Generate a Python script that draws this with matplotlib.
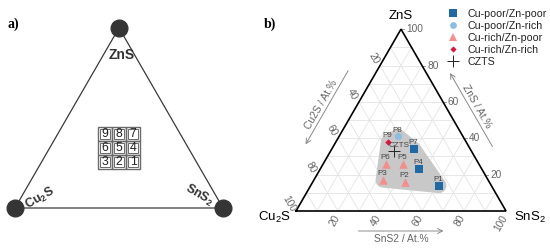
import numpy as np
import matplotlib
matplotlib.use('Agg')
import matplotlib.pyplot as plt
from matplotlib.patches import Polygon, Rectangle
from matplotlib.lines import Line2D

plt.rcParams['font.family'] = ['Liberation Sans', 'DejaVu Sans']
plt.rcParams['mathtext.fontset'] = 'custom'
plt.rcParams['mathtext.rm'] = 'Liberation Sans'
plt.rcParams['mathtext.bf'] = 'Liberation Sans:bold'

# ---------------- data ----------------
names = ['P1', 'P2', 'P3', 'P4', 'P5', 'P6', 'P7', 'P8', 'P9']
cu2s = [25, 40, 50, 30, 36, 44, 27, 31, 37]
zns = [14, 16, 17, 23, 26, 26, 34, 41, 38]
sns2 = [61, 44, 33, 47, 38, 30, 39, 28, 25]
groups = ['Cu-poor/Zn-poor', 'Cu-rich/Zn-poor', 'Cu-rich/Zn-poor',
          'Cu-poor/Zn-poor', 'Cu-rich/Zn-poor', 'Cu-rich/Zn-poor',
          'Cu-poor/Zn-poor', 'Cu-poor/Zn-rich', 'Cu-rich/Zn-rich']
czts = [37, 33, 30]  # Cu2S, ZnS, SnS2
group_names = ['Cu-poor/Zn-poor', 'Cu-poor/Zn-rich', 'Cu-rich/Zn-poor',
               'Cu-rich/Zn-rich']
tick_values = [20, 40, 60, 80, 100]
grid_values = [10, 20, 30, 40, 50, 60, 70, 80, 90]
grid_labels = [[9, 8, 7], [6, 5, 4], [3, 2, 1]]

# ---------------- styles ----------------
styles = {
    'Cu-poor/Zn-poor': dict(marker='s', color='#1f6aa5', s=30),
    'Cu-poor/Zn-rich': dict(marker='o', color='#8cbde0', s=26),
    'Cu-rich/Zn-poor': dict(marker='^', color='#f28e8c', s=38),
    'Cu-rich/Zn-rich': dict(marker='D', color='#d8163f', s=11),
}

W, H, DPI = 550, 248, 100
fig = plt.figure(figsize=(W / DPI, H / DPI), dpi=DPI)

S3 = np.sqrt(3) / 2


def tern(c, z, s):
    c, z, s = np.asarray(c, float), np.asarray(z, float), np.asarray(s, float)
    tot = c + z + s
    return (s + 0.5 * z) / tot, S3 * z / tot


# ================= panel a =================
SA = 208.0
ax0x, ax0y = 15.0, 208.0
axa = fig.add_axes([0, 0, 260 / W, 1])
axa.set_xlim(-ax0x / SA, (260 - ax0x) / SA)
axa.set_ylim((ax0y - H) / SA, ax0y / SA)
axa.axis('off')

vx, vy = tern([100, 0, 0, 100], [0, 100, 0, 0], [0, 0, 100, 0])
axa.plot(vx, vy, color='#3a3a3a', lw=0.9, zorder=1)
axa.plot(vx[:3], vy[:3], 'o', color='#353535', ms=12, zorder=2)

pa = 1 / SA
axa.text(vx[1] + 3 * pa, vy[1] - 27 * pa, 'ZnS', ha='center', va='center',
         fontsize=10, fontweight='bold', color='#333333')
axa.text(vx[0] + 25 * pa, vy[0] + 10 * pa, r'Cu$_\mathbf{2}$S', ha='center',
         va='center', fontsize=9, fontweight='bold', color='#333333',
         rotation=30)
axa.text(vx[2] - 24 * pa, vy[2] + 13 * pa, r'SnS$_\mathbf{2}$', ha='center',
         va='center', fontsize=9, fontweight='bold', color='#333333',
         rotation=-30)

cx, cy = tern(1, 1, 1)
cell = 14.2 * pa
for r, row in enumerate(grid_labels):
    for c, lab in enumerate(row):
        x0 = cx + (c - 1.5) * cell
        y0 = cy + (0.5 - r) * cell
        axa.add_patch(Rectangle((x0, y0), cell, cell, fill=False,
                                ec='#6a6a6a', lw=1.0))
        ins = 0.16 * cell
        axa.add_patch(Rectangle((x0 + ins, y0 + ins), cell - 2 * ins,
                                cell - 2 * ins, fill=False, ec='#6a6a6a',
                                lw=0.7))
        axa.text(x0 + cell / 2, y0 + cell / 2, str(lab), ha='center',
                 va='center', fontsize=8.8, color='#222222')

fig.text(13 / W, 1 - 24 / H, 'a)', family=['Liberation Serif', 'DejaVu Serif'],
         fontsize=10, fontweight='bold', ha='center', va='center')
fig.text(270 / W, 1 - 24 / H, 'b)', family=['Liberation Serif', 'DejaVu Serif'],
         fontsize=10, fontweight='bold', ha='center', va='center')

# ================= panel b =================
SB = 210.0
bx0, by0 = 296.0, 211.0
axb = fig.add_axes([260 / W, 0, 290 / W, 1])
axb.set_xlim((260 - bx0) / SB, (W - bx0) / SB)
axb.set_ylim((by0 - H) / SB, by0 / SB)
axb.axis('off')
pb = 1 / SB

# grid
for v in grid_values:
    for a, b in [(tern(100 - v, v, 0), tern(0, v, 100 - v)),
                 (tern(100 - v, 0, v), tern(0, 100 - v, v)),
                 (tern(v, 100 - v, 0), tern(v, 0, 100 - v))]:
        axb.plot([a[0], b[0]], [a[1], b[1]], color='#e4e4e4', lw=0.6,
                 zorder=1)

# shaded region: rounded hull around the samples
px, py = tern(cu2s + [czts[0]], zns + [czts[1]], sns2 + [czts[2]])
ang = np.linspace(0, 2 * np.pi, 40, endpoint=False)
rad = 0.036
cloud = np.array([(x + rad * np.cos(t), y + rad * np.sin(t))
                  for x, y in zip(px, py) for t in ang])


def hull(pts):
    pts = sorted(map(tuple, pts))

    def cross(o, a, b):
        return (a[0] - o[0]) * (b[1] - o[1]) - (a[1] - o[1]) * (b[0] - o[0])
    lower, upper = [], []
    for p in pts:
        while len(lower) >= 2 and cross(lower[-2], lower[-1], p) <= 0:
            lower.pop()
        lower.append(p)
    for p in reversed(pts):
        while len(upper) >= 2 and cross(upper[-2], upper[-1], p) <= 0:
            upper.pop()
        upper.append(p)
    return np.array(lower[:-1] + upper[:-1])


axb.add_patch(Polygon(hull(cloud), closed=True, fc='#c8c8c8', ec='none',
                      zorder=2))

# triangle border
tx, ty = tern([100, 0, 0, 100], [0, 100, 0, 0], [0, 0, 100, 0])
axb.plot(tx, ty, color='black', lw=1.2, zorder=3, solid_joinstyle='miter')

# tick labels
tcol = '#666666'
for v in tick_values:
    x, y = tern(0, v, 100 - v)          # ZnS on right edge
    axb.plot([x, x + 3 * pb], [y, y], color='#888888', lw=0.6)
    axb.text(x + 5 * pb, y, str(v), ha='left', va='center', fontsize=7.3,
             color=tcol)
    x, y = tern(v, 100 - v, 0)          # Cu2S on left edge
    axb.text(x - 6.5 * pb, y + 7.5 * pb, str(v), ha='center', va='center',
             fontsize=7.3, color=tcol, rotation=-60)
    x, y = tern(100 - v, 0, v)          # SnS2 on bottom
    axb.text(x - 1 * pb, y - 5 * pb, str(v), ha='right', va='center',
             fontsize=7.3, color=tcol, rotation=60, rotation_mode='anchor')

# axis titles with arrows
L = 85 * pb / 2
acol = '#8a8a8a'
arrow = dict(arrowstyle='->,head_length=0.35,head_width=0.18', color=acol,
             lw=0.7, shrinkA=0, shrinkB=0)
# bottom
mx, my = tern(50, 0, 50)
axb.annotate('', xy=(mx + L, my - 20 * pb), xytext=(mx - L, my - 20 * pb),
             arrowprops=arrow)
axb.text(mx, my - 27.5 * pb, 'SnS2 / At.%', ha='center', va='center',
         fontsize=7.4, color=tcol)
# left
u = np.array([0.5, S3])
n = np.array([-S3, 0.5])
m = np.array(tern(50, 50, 0))
c = m + n * 25 * pb
axb.annotate('', xy=c - u * L, xytext=c + u * L, arrowprops=arrow)
t = m + n * 31 * pb
axb.text(t[0], t[1], 'Cu2S / At.%', ha='center', va='center', fontsize=7.4,
         color=tcol, rotation=60)
# right
u = np.array([-0.5, S3])
n = np.array([S3, 0.5])
m = np.array(tern(0, 50, 50))
c = m + n * 20.5 * pb
axb.annotate('', xy=c + u * L, xytext=c - u * L, arrowprops=arrow)
t = m + n * 27 * pb
axb.text(t[0], t[1], 'ZnS / At.%', ha='center', va='center', fontsize=7.4,
         color=tcol, rotation=-60)

# vertex labels
axb.text(tx[1], ty[1] + 13 * pb, 'ZnS', ha='center', va='center', fontsize=9.5)
axb.text(tx[0] - 5 * pb, ty[0] - 6 * pb, r'Cu$_2$S', ha='right', va='center',
         fontsize=9.5)
axb.text(tx[2] + 8 * pb, ty[2] - 6 * pb, r'SnS$_2$', ha='left', va='center',
         fontsize=9.5)

# points
handles = []
for g in group_names:
    idx = [i for i, gg in enumerate(groups) if gg == g]
    gx, gy = tern([cu2s[i] for i in idx], [zns[i] for i in idx],
                  [sns2[i] for i in idx])
    st = styles[g]
    axb.scatter(gx, gy, marker=st['marker'], c=st['color'], s=st['s'],
                linewidths=0, zorder=5)
    handles.append(Line2D([], [], ls='none', marker=st['marker'],
                          color=st['color'], ms=np.sqrt(st['s']) * 0.95,
                          mew=0))
cxp, cyp = tern(*czts)
axb.scatter([cxp], [cyp], marker='+', c='#222222', s=70, linewidths=0.7,
            zorder=6)
handles.append(Line2D([], [], ls='none', marker='+', color='#222222', ms=8,
                      mew=0.7))

for nm, x, y in zip(names, *tern(cu2s, zns, sns2)):
    axb.annotate(nm, (x, y), xytext=(-0.5, 4.5), textcoords='offset points',
                 ha='center', va='center', fontsize=5.8, color='#444444',
                 zorder=7)
axb.annotate('CZTS', (cxp, cyp), xytext=(4.0, 3.8), textcoords='offset points',
             ha='center', va='center', fontsize=5.8, color='#444444', zorder=7)

fig.legend(handles, group_names + ['CZTS'], loc='upper left',
           bbox_to_anchor=(448 / W, 1 - 9 / H), frameon=False, fontsize=7.7,
           borderpad=0, borderaxespad=0, handlelength=0.9, handletextpad=0.9,
           labelspacing=0.19, labelcolor='#222222')

fig.savefig('out.png', dpi=DPI)
